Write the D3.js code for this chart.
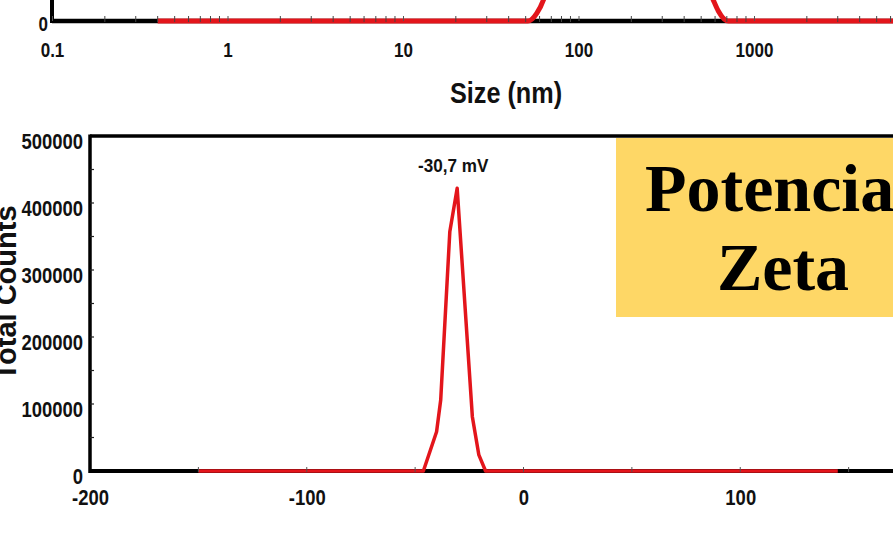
<!DOCTYPE html>
<html><head><meta charset="utf-8">
<script src="https://cdn.jsdelivr.net/npm/d3@7"></script>
<style>html,body{margin:0;padding:0;background:#fff;overflow:hidden}</style>
</head><body><svg id="c" width="893" height="538"></svg>
<script>
// ---- data ----
const sizeNm        = [0.4, 51.5, 57.8, 63.1, 70, 90, 130, 200, 300, 420, 520, 586, 626, 713, 10000];
const sizeIntensity = [0,   0,    0.44, 1.2,  3,  8,  14,  17,  13,  6,   2.5, 1.2, 0.57, 0,  0];
const sizeXTicks = [0.1, 1, 10, 100, 1000];
const sizeYTicks = [0];
const zetaMv     = [-150, -46.2, -40.1, -38.2, -34.0, -30.6, -23.6, -20.6, -17.5, 145];
const zetaCounts = [0,    0,     58600, 106000, 357000, 422000, 81000, 24000, 0,   0];
const zetaXTicks = [-200, -100, 0, 100];
const zetaYTicks = [0, 100000, 200000, 300000, 400000, 500000];
const peakText = "-30,7 mV";
const peakMv = -30.6, peakCount = 422000;
const sizeTitle = "Size (nm)";
const zetaYTitle = "Total Counts";
const boxLines = ["Potencia", "Zeta"];

const RED = "#e3151b";
const SANS = "'Liberation Sans',Arial,sans-serif";
const SERIF = "'Liberation Serif','Times New Roman',serif";

// condense text horizontally (the original uses a narrow face)
function condense(sel, k) {
  sel.each(function () {
    const t = d3.select(this);
    const x = +(t.attr("x") || 0);
    t.attr("x", x / k).attr("transform", `scale(${k},1)`);
  });
}

const svg = d3.select("#c");
svg.append("rect").attr("width", 893).attr("height", 538).attr("fill", "#fff");

// ================= top chart: size distribution (cropped) =================
const sx = d3.scaleLog().domain([0.1, 1000]).range([52, 754]);
const sy = d3.scaleLinear().domain([0, 20]).range([21, -330]);
const gTop = svg.append("g");

gTop.append("line").attr("x1", sx(0.1)).attr("x2", 893).attr("y1", sy(0)).attr("y2", sy(0))
  .attr("stroke", "#000").attr("stroke-width", 4.5);
gTop.append("line").attr("x1", sx(0.1)).attr("x2", sx(0.1)).attr("y1", -5).attr("y2", sy(0) + 2)
  .attr("stroke", "#000").attr("stroke-width", 4);

const sizeData = sizeNm.map((d, i) => [d, sizeIntensity[i]]);
gTop.append("path").datum(sizeData)
  .attr("d", d3.line().x(d => sx(d[0])).y(d => sy(d[1])).curve(d3.curveMonotoneX))
  .attr("fill", "none").attr("stroke", RED).attr("stroke-width", 5).attr("stroke-linejoin", "round");

const sizeMinor = [];
[0.1, 1, 10, 100, 1000].forEach(dec => { for (let k = 2; k <= 9; k++) sizeMinor.push(dec * k); });
gTop.selectAll(".sminor").data(sizeMinor.filter(v => sx(v) < 893)).join("line")
  .attr("x1", d => sx(d)).attr("x2", d => sx(d)).attr("y1", sy(0) - 5).attr("y2", sy(0) + 1)
  .attr("stroke", "#444").attr("stroke-width", 1);

const sxAxis = gTop.append("g").attr("transform", `translate(0,${sy(0)})`)
  .call(d3.axisBottom(sx).tickValues(sizeXTicks).tickFormat(d => String(d)).tickSize(-5).tickPadding(22));
sxAxis.select(".domain").remove();
sxAxis.selectAll(".tick line").attr("stroke", "#555").attr("stroke-width", 1);
sxAxis.selectAll("text").attr("font-family", SANS).attr("font-weight", "bold")
  .attr("font-size", 20).attr("fill", "#111").call(condense, 0.85);

const syAxis = gTop.append("g").attr("transform", `translate(${sx(0.1)},0)`)
  .call(d3.axisLeft(sy).tickValues(sizeYTicks).tickFormat(d => String(d)).tickSize(0).tickPadding(4));
syAxis.select(".domain").remove();
syAxis.selectAll("text").attr("font-family", SANS).attr("font-weight", "bold")
  .attr("font-size", 20).attr("fill", "#111").attr("dy", "0.45em").call(condense, 0.85);

gTop.append("text").attr("x", 506).attr("y", 103).attr("text-anchor", "middle")
  .attr("font-family", SANS).attr("font-weight", "bold").attr("font-size", 29).attr("fill", "#111")
  .text(sizeTitle).call(condense, 0.87);

// ================= bottom chart: zeta potential =================
const zx = d3.scaleLinear().domain([-200, 200]).range([90, 957]);
const zy = d3.scaleLinear().domain([0, 500000]).range([471, 136]);
const gBot = svg.append("g");

gBot.append("line").attr("x1", zx(-200)).attr("x2", zx(200)).attr("y1", zy(500000)).attr("y2", zy(500000))
  .attr("stroke", "#000").attr("stroke-width", 3.5);
gBot.append("line").attr("x1", zx(-200)).attr("x2", zx(200)).attr("y1", zy(0)).attr("y2", zy(0))
  .attr("stroke", "#000").attr("stroke-width", 4);
gBot.append("line").attr("x1", zx(-200)).attr("x2", zx(-200)).attr("y1", zy(500000) - 1.5).attr("y2", zy(0) + 2)
  .attr("stroke", "#000").attr("stroke-width", 3.5);

const zetaData = zetaMv.map((d, i) => [d, zetaCounts[i]]);
gBot.append("path").datum(zetaData)
  .attr("d", d3.line().x(d => zx(d[0])).y(d => zy(d[1])))
  .attr("fill", "none").attr("stroke", RED).attr("stroke-width", 3.5).attr("stroke-linejoin", "round");

const zxAxis = gBot.append("g").attr("transform", `translate(0,${zy(0)})`)
  .call(d3.axisBottom(zx).tickValues(zetaXTicks).tickFormat(d => String(d)).tickSize(0).tickPadding(18.5));
zxAxis.select(".domain").remove();
zxAxis.selectAll("text").attr("font-family", SANS).attr("font-weight", "bold")
  .attr("font-size", 22).attr("fill", "#111").call(condense, 0.84);
const zxMinor = d3.range(-150, 200, 50);
gBot.selectAll(".zxminor").data(zxMinor).join("line")
  .attr("x1", d => zx(d)).attr("x2", d => zx(d)).attr("y1", zy(0) - 4).attr("y2", zy(0) + 1)
  .attr("stroke", "#555").attr("stroke-width", 1);

const zyAxis = gBot.append("g").attr("transform", `translate(${zx(-200)},0)`)
  .call(d3.axisLeft(zy).tickValues(zetaYTicks).tickFormat(d => String(d)).tickSize(0).tickPadding(7));
zyAxis.select(".domain").remove();
zyAxis.selectAll("text").attr("font-family", SANS).attr("font-weight", "bold")
  .attr("font-size", 22).attr("fill", "#111").attr("dy", "0.58em").call(condense, 0.84);
const zyMinor = d3.range(50000, 500000, 50000);
gBot.selectAll(".zyminor").data(zyMinor).join("line")
  .attr("x1", zx(-200)).attr("x2", zx(-200) + 4).attr("y1", d => zy(d)).attr("y2", d => zy(d))
  .attr("stroke", "#222").attr("stroke-width", 1.2);

gBot.append("text").attr("transform", `translate(16,${293}) rotate(-90)`).attr("text-anchor", "middle")
  .attr("font-family", SANS).attr("font-weight", "bold").attr("font-size", 29).attr("fill", "#111")
  .text(zetaYTitle);

gBot.append("text").attr("x", zx(peakMv) - 4).attr("y", zy(peakCount) - 16).attr("text-anchor", "middle")
  .attr("font-family", SANS).attr("font-weight", "bold").attr("font-size", 19).attr("fill", "#111")
  .text(peakText).call(condense, 0.9);

const box = svg.append("g");
box.append("rect").attr("x", 616).attr("y", 138).attr("width", 300).attr("height", 179).attr("fill", "#fed766");
box.append("text").attr("x", 645).attr("y", 211).attr("font-family", SERIF)
  .attr("font-weight", "bold").attr("font-size", 68).attr("fill", "#000").text(boxLines[0]);
box.append("text").attr("x", 783).attr("y", 290).attr("text-anchor", "middle").attr("font-family", SERIF)
  .attr("font-weight", "bold").attr("font-size", 68).attr("fill", "#000").text(boxLines[1]);
</script>
</body></html>
